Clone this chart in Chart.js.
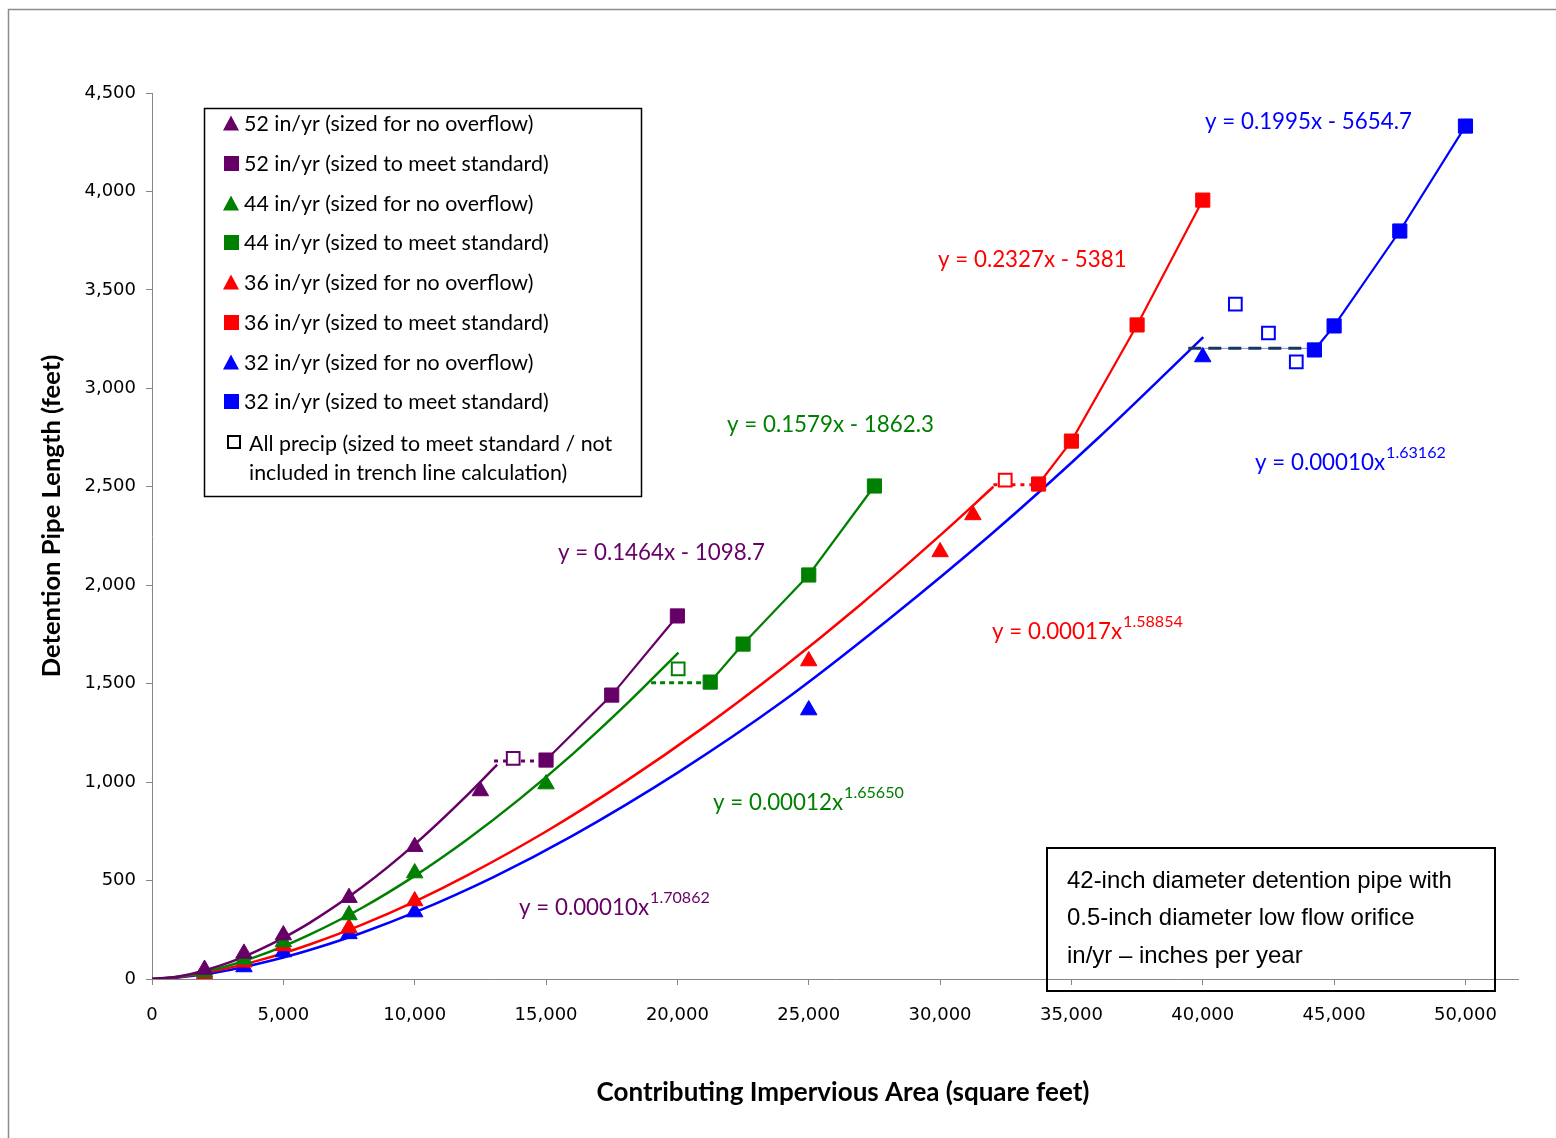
<!DOCTYPE html>
<html>
<head>
<meta charset="utf-8">
<script src="https://cdn.jsdelivr.net/npm/chart.js@4.4.1/dist/chart.umd.min.js"></script>
<style>
  html, body { margin: 0; background: #fff; }
  canvas { display: block; }
</style>
</head>
<body>
<canvas id="pipeChart" width="1556" height="1138"></canvas>
<script>
// ── DATA ──────────────────────────────────────────────
const x52NoOverflow = [2000, 3500, 5000, 7500, 10000, 12500];
const y52NoOverflow = [48, 130, 223, 413, 672, 955];
const x52Standard   = [15000, 17500, 20000];
const y52Standard   = [1112, 1442, 1844];

const x44NoOverflow = [2000, 3500, 5000, 7500, 10000, 15000];
const y44NoOverflow = [35, 100, 188, 325, 538, 990];
const x44Standard   = [21250, 22500, 25000, 27500];
const y44Standard   = [1508, 1701, 2052, 2504];

const x36NoOverflow = [2000, 3500, 5000, 7500, 10000, 25000, 30000, 31250];
const y36NoOverflow = [25, 85, 168, 259, 396, 1615, 2169, 2357];
const x36Standard   = [33750, 35000, 37500, 40000];
const y36Standard   = [2514, 2732, 3322, 3956];

const x32NoOverflow = [2000, 3500, 5000, 7500, 10000, 25000, 40000];
const y32NoOverflow = [10, 61, 137, 229, 340, 1366, 3159];
const x32Standard   = [44250, 45000, 47500, 50000];
const y32Standard   = [3195, 3317, 3799, 4332];

// hollow squares: all precip, not in trend line calc
const xAllPrecip = [13750, 20030, 32480, 41240, 42500, 43560];
const yAllPrecip = [1120, 1575, 2534, 3428, 3281, 3134];
const cAllPrecip = ['#660066', '#008000', '#FF0000', '#0000FF', '#0000FF', '#0000FF'];

// power trend lines
const x52Trend = [0, 1000, 2000, 3000, 4000, 5000, 6000, 8000, 10000, 12000, 13140];
const y52Trend = [0, 13, 44, 87, 143, 209, 285, 467, 684, 934, 1089];
const x44Trend = [0, 1000, 2000, 3000, 4000, 5000, 6000, 8000, 10000, 12000, 14000, 16000, 18000, 20040];
const y44Trend = [0, 12, 36, 71, 115, 166, 225, 362, 524, 709, 915, 1141, 1388, 1658];
const x36Trend = [0, 1000, 2000, 3000, 4000, 5000, 6000, 8000, 10000, 12000, 15000, 18000, 21000, 24000, 27000, 30000, 32030];
const y36Trend = [0, 10, 31, 58, 92, 131, 175, 276, 393, 526, 749, 1001, 1278, 1580, 1905, 2253, 2500];
const x32Trend = [0, 1000, 2000, 3000, 4000, 5000, 6000, 8000, 10000, 13000, 16000, 20000, 24000, 28000, 32000, 36000, 40020];
const y32Trend = [0, 8, 24, 47, 76, 109, 147, 235, 338, 518, 727, 1047, 1409, 1822, 2265, 2745, 3260];

// dotted connectors from end of power curve to linear segment
const x52Link = [13020, 15000];
const y52Link = [1107, 1107];
const x44Link = [19000, 21250];
const y44Link = [1505, 1505];
const x36Link = [32030, 33750];
const y36Link = [2510, 2510];
const x32Link = [39450, 44250];
const y32Link = [3203, 3203];

const xTicks = [0, 5000, 10000, 15000, 20000, 25000, 30000, 35000, 40000, 45000, 50000];

const LEGEND_LABELS = [
  '52 in/yr (sized for no overflow)',
  '52 in/yr (sized to meet standard)',
  '44 in/yr (sized for no overflow)',
  '44 in/yr (sized to meet standard)',
  '36 in/yr (sized for no overflow)',
  '36 in/yr (sized to meet standard)',
  '32 in/yr (sized for no overflow)',
  '32 in/yr (sized to meet standard)'
];

const PURPLE = '#660066', GREEN = '#008000', RED = '#FF0000', BLUE = '#0000FF', NAVY = '#17375E';
const AXIS_GRAY = '#868686';
const SANS = "Lato, 'Open Sans', sans-serif";

const pts = (xs, ys) => xs.map((x, i) => ({ x, y: ys[i] }));

function markers(label, xs, ys, color, style) {
  const tri = style === 'triangle';
  return {
    label, data: pts(xs, ys), showLine: false,
    pointStyle: style, pointRadius: tri ? 9.5 : 10,
    backgroundColor: color, borderColor: color, borderWidth: 1
  };
}
function segment(label, xs, ys, color) {
  return {
    label, data: pts(xs, ys), showLine: true, borderColor: color,
    borderWidth: 2.2, pointStyle: 'rect', pointRadius: 10,
    backgroundColor: color, pointBorderWidth: 1
  };
}
function curve(label, xs, ys, color) {
  return {
    label, data: pts(xs, ys), showLine: true, borderColor: color,
    borderWidth: 2.5, pointRadius: 0, cubicInterpolationMode: 'monotone'
  };
}
function link(label, xs, ys, color, dash, width) {
  return {
    label, data: pts(xs, ys), showLine: true, borderColor: color,
    borderWidth: width, borderDash: dash, pointRadius: 0
  };
}

// ── TEXT HELPERS ─────────────────────────────────────
function fitSize(ctx, text, weight, family, target) {
  ctx.font = `${weight} 20px ${family}`;
  return 20 * target / ctx.measureText(text).width;
}

function drawEq(ctx, text, sup, x, y, color, size) {
  ctx.fillStyle = color;
  ctx.textAlign = 'left';
  ctx.textBaseline = 'middle';
  ctx.font = `${size}px ${SANS}`;
  ctx.fillText(text, x, y);
  if (sup) {
    const w = ctx.measureText(text).width;
    ctx.font = `${size * 0.72}px ${SANS}`;
    ctx.fillText(sup, x + w + 1, y - 10);
  }
}

function drawTri(ctx, cx, cy, w, h, color) {
  ctx.beginPath();
  ctx.moveTo(cx, cy - h / 2);
  ctx.lineTo(cx + w / 2, cy + h / 2);
  ctx.lineTo(cx - w / 2, cy + h / 2);
  ctx.closePath();
  ctx.fillStyle = color;
  ctx.fill();
}

// ── DECORATION PLUGIN ───────────────────────────────
const decorations = {
  id: 'decorations',
  beforeDraw(chart) {
    const ctx = chart.ctx;
    ctx.save();
    ctx.fillStyle = '#fff';
    ctx.fillRect(0, 0, chart.width, chart.height);
    ctx.strokeStyle = '#8c8c8c';
    ctx.lineWidth = 1.5;
    ctx.beginPath();
    ctx.moveTo(8.5, chart.height);
    ctx.lineTo(8.5, 9.5);
    ctx.lineTo(chart.width, 9.5);
    ctx.stroke();
    ctx.restore();
  },
  afterDraw(chart) {
    const ctx = chart.ctx;
    ctx.save();

    // axis titles
    ctx.fillStyle = '#000';
    ctx.textAlign = 'center';
    ctx.textBaseline = 'middle';
    const xt = 'Contributing Impervious Area (square feet)';
    ctx.font = `bold ${fitSize(ctx, xt, 'bold', SANS, 493)}px ${SANS}`;
    ctx.fillText(xt, 843, 1093);
    const yt = 'Detention Pipe Length (feet)';
    ctx.font = `bold ${fitSize(ctx, yt, 'bold', SANS, 323)}px ${SANS}`;
    ctx.translate(52, 516);
    ctx.rotate(-Math.PI / 2);
    ctx.fillText(yt, 0, 0);
    ctx.setTransform(1, 0, 0, 1, 0, 0);

    // legend box
    ctx.strokeStyle = '#000';
    ctx.lineWidth = 1.5;
    ctx.strokeRect(204.5, 108.5, 437, 388);
    const legSize = fitSize(ctx, LEGEND_LABELS[1], '', SANS, 305);
    const rows = [123, 163, 203, 242, 282, 322, 362, 401];
    const legColors = [PURPLE, PURPLE, GREEN, GREEN, RED, RED, BLUE, BLUE];
    ctx.textAlign = 'left';
    ctx.textBaseline = 'middle';
    LEGEND_LABELS.forEach((lab, i) => {
      const cy = rows[i];
      if (i % 2 === 0) drawTri(ctx, 231, cy, 16, 15, legColors[i]);
      else { ctx.fillStyle = legColors[i]; ctx.fillRect(224, cy - 7, 15, 15); }
      ctx.fillStyle = '#000';
      ctx.font = `${legSize}px ${SANS}`;
      ctx.fillText(lab, 244, cy + 1);
    });
    ctx.lineWidth = 2;
    ctx.strokeStyle = '#000';
    ctx.strokeRect(228, 436, 12, 12);
    ctx.fillStyle = '#000';
    ctx.font = `${legSize}px ${SANS}`;
    ctx.fillText('All precip (sized to meet standard / not', 249, 444);
    ctx.fillText('included in trench line calculation)', 249, 473);

    // note box
    ctx.lineWidth = 2;
    ctx.strokeRect(1047, 848, 448, 143);
    const n1 = '42-inch diameter detention pipe with';
    const nSize = fitSize(ctx, n1, '', "'Liberation Sans', Arial, sans-serif", 385);
    ctx.font = `${nSize}px 'Liberation Sans', Arial, sans-serif`;
    ctx.fillStyle = '#000';
    ctx.fillText(n1, 1067, 881);
    ctx.fillText('0.5-inch diameter low flow orifice', 1067, 918);
    ctx.fillText('in/yr \u2013 inches per year', 1067, 956);

    // trend line equations
    const eqSize = fitSize(ctx, 'y = 0.1464x - 1098.7', '', SANS, 207);
    drawEq(ctx, 'y = 0.1464x - 1098.7', '', 558, 553, PURPLE, eqSize);
    drawEq(ctx, 'y = 0.1579x - 1862.3', '', 727, 425, GREEN, eqSize);
    drawEq(ctx, 'y = 0.2327x - 5381', '', 938, 260, RED, eqSize);
    drawEq(ctx, 'y = 0.1995x - 5654.7', '', 1205, 122, BLUE, eqSize);
    drawEq(ctx, 'y = 0.00012x', '1.65650', 713, 803, GREEN, eqSize);
    drawEq(ctx, 'y = 0.00010x', '1.70862', 519, 908, PURPLE, eqSize);
    drawEq(ctx, 'y = 0.00017x', '1.58854', 992, 632, RED, eqSize);
    drawEq(ctx, 'y = 0.00010x', '1.63162', 1255, 463, BLUE, eqSize);

    ctx.restore();
  }
};

// ── CHART ──────────────────────────────────────────
const datasets = [
  markers('52 in/yr (sized for no overflow)', x52NoOverflow, y52NoOverflow, PURPLE, 'triangle'),
  segment('52 in/yr (sized to meet standard)', x52Standard, y52Standard, PURPLE),
  markers('44 in/yr (sized for no overflow)', x44NoOverflow, y44NoOverflow, GREEN, 'triangle'),
  segment('44 in/yr (sized to meet standard)', x44Standard, y44Standard, GREEN),
  markers('36 in/yr (sized for no overflow)', x36NoOverflow, y36NoOverflow, RED, 'triangle'),
  segment('36 in/yr (sized to meet standard)', x36Standard, y36Standard, RED),
  markers('32 in/yr (sized for no overflow)', x32NoOverflow, y32NoOverflow, BLUE, 'triangle'),
  segment('32 in/yr (sized to meet standard)', x32Standard, y32Standard, BLUE),
  {
    label: 'All precip', data: pts(xAllPrecip, yAllPrecip), showLine: false,
    pointStyle: 'rect', pointRadius: 9, pointBackgroundColor: '#fff',
    pointBorderColor: cAllPrecip, pointBorderWidth: 2
  },
  link('52 link', x52Link, y52Link, PURPLE, [4, 5], 3),
  link('44 link', x44Link, y44Link, GREEN, [5, 4], 3),
  link('36 link', x36Link, y36Link, RED, [4, 5], 3),
  link('32 link', x32Link, y32Link, NAVY, [13, 7], 3),
  link('32 link thin', x32Link, y32Link, '#7b8fe6', [], 1),
  curve('52 trend', x52Trend, y52Trend, PURPLE),
  curve('44 trend', x44Trend, y44Trend, GREEN),
  curve('36 trend', x36Trend, y36Trend, RED),
  curve('32 trend', x32Trend, y32Trend, BLUE)
];

const tickFont = { family: "'DejaVu Sans', Verdana, sans-serif", size: 18 };

new Chart(document.getElementById('pipeChart'), {
  type: 'scatter',
  data: { datasets },
  options: {
    responsive: false,
    animation: false,
    layout: { padding: { top: 93, right: 38, left: 0, bottom: 0 } },
    plugins: { legend: { display: false }, tooltip: { enabled: false } },
    scales: {
      x: {
        type: 'linear', min: 0, max: 52000,
        afterBuildTicks: s => { s.ticks = xTicks.map(v => ({ value: v })); },
        afterFit: s => { s.height = 159; },
        ticks: {
          color: '#000', font: tickFont, padding: 20, maxRotation: 0,
          callback: v => v.toLocaleString('en-US')
        },
        grid: { drawOnChartArea: false, drawTicks: true, tickLength: 6, color: AXIS_GRAY },
        border: { color: AXIS_GRAY, width: 1 }
      },
      y: {
        type: 'linear', min: 0, max: 4500,
        afterFit: s => { s.width = 152; },
        ticks: {
          stepSize: 500, color: '#000', font: tickFont, padding: 10,
          callback: v => v.toLocaleString('en-US')
        },
        grid: { drawOnChartArea: false, drawTicks: true, tickLength: 6, color: AXIS_GRAY },
        border: { color: AXIS_GRAY, width: 1 }
      }
    }
  },
  plugins: [decorations]
});
</script>
</body>
</html>
